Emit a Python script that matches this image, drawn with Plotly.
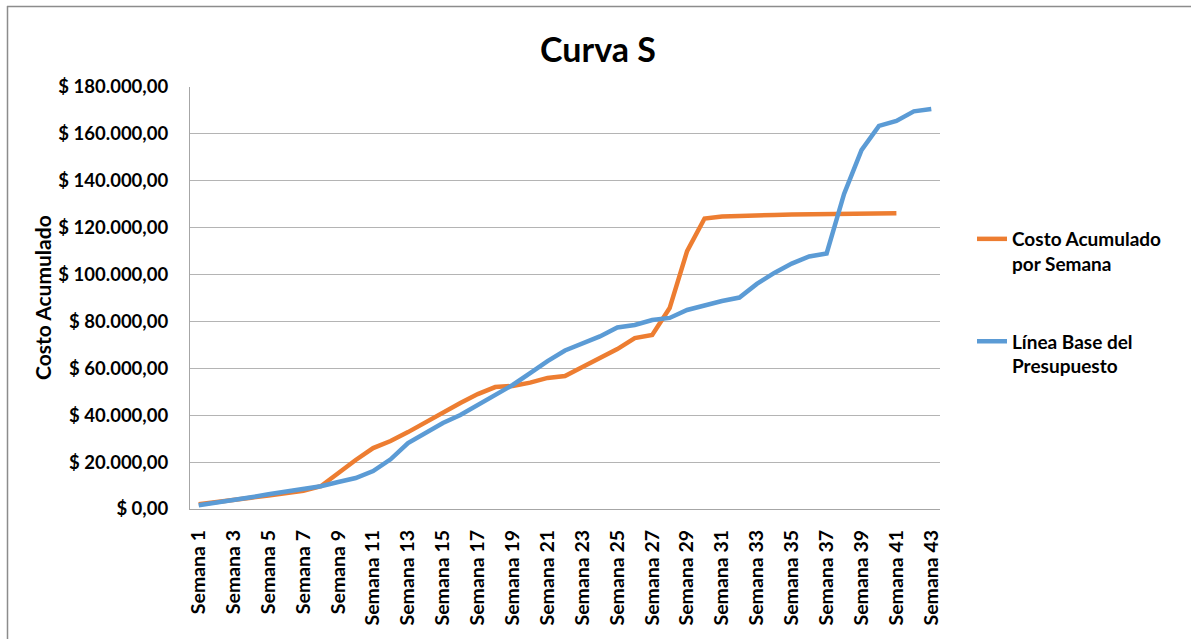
import plotly.graph_objects as go

weeks = [
    "Semana 1", "Semana 2", "Semana 3", "Semana 4", "Semana 5", "Semana 6", "Semana 7",
    "Semana 8", "Semana 9", "Semana 10", "Semana 11", "Semana 12", "Semana 13", "Semana 14",
    "Semana 15", "Semana 16", "Semana 17", "Semana 18", "Semana 19", "Semana 20", "Semana 21",
    "Semana 22", "Semana 23", "Semana 24", "Semana 25", "Semana 26", "Semana 27", "Semana 28",
    "Semana 29", "Semana 30", "Semana 31", "Semana 32", "Semana 33", "Semana 34", "Semana 35",
    "Semana 36", "Semana 37", "Semana 38", "Semana 39", "Semana 40", "Semana 41", "Semana 42",
    "Semana 43",
]

costo_acumulado = [
    2000, 2800, 3800, 4800, 5800, 6800, 7800, 9700, 15400, 20900,
    26000, 29000, 32800, 37100, 41400, 45200, 49000, 52000, 52500, 53900,
    55900, 56700, 60600, 64400, 68200, 72900, 74200, 85700, 110000, 123900,
    124800, 125000, 125400, 125400, 125600, 125700, 126000, 126000, 126000, 126000,
    126200, None, None,
]

linea_base = [
    1600, 2600, 4000, 5000, 6300, 7300, 8600, 9700, 11500, 13200,
    16200, 21200, 28100, 32400, 36700, 40100, 44400, 49100, 52900, 58000,
    63100, 67600, 70400, 73600, 77400, 78500, 80600, 81500, 84900, 87000,
    88700, 90200, 96000, 100700, 104700, 107700, 109000, 134400, 153100, 163400,
    165500, 169600, 170600,
]

tick_weeks = [
    "Semana 1", "Semana 3", "Semana 5", "Semana 7", "Semana 9", "Semana 11", "Semana 13",
    "Semana 15", "Semana 17", "Semana 19", "Semana 21", "Semana 23", "Semana 25", "Semana 27",
    "Semana 29", "Semana 31", "Semana 33", "Semana 35", "Semana 37", "Semana 39", "Semana 41",
    "Semana 43",
]

FONT = "Lato"

fig = go.Figure()
fig.add_trace(go.Scatter(
    x=weeks, y=costo_acumulado, mode="lines",
    name="<b>Costo Acumulado<br>por Semana</b>",
    line=dict(color="#ED7D31", width=4.5),
    connectgaps=False, legendgroup="a",
))
fig.add_trace(go.Scatter(
    x=weeks, y=linea_base, mode="lines",
    name="<b>Línea Base del<br>Presupuesto</b>",
    line=dict(color="#5B9BD5", width=4.5),
    legendgroup="b",
))

W, H = 1191, 639
L, R, T, B = 190, 940, 87, 509

def px_x(x):
    return (x - L) / (R - L)

def px_y(y):
    return (B - y) / (B - T)

fig.update_layout(
    width=W, height=H,
    margin=dict(l=L, r=W - R, t=T, b=H - B),
    paper_bgcolor="white", plot_bgcolor="white",
    separators=",.",
    font=dict(family=FONT, color="black"),
    title=dict(
        text="<b>Curva S</b>", x=598 / W, xanchor="center",
        y=1 - 50 / H, yanchor="middle", yref="container", xref="container",
        font=dict(family=FONT, size=34, color="black"),
    ),
    showlegend=True,
    legend=dict(
        x=px_x(972), xanchor="left", y=px_y(220), yanchor="top",
        font=dict(family=FONT, size=19, color="black"),
        traceorder="grouped", tracegroupgap=50, valign="top",
        bgcolor="rgba(0,0,0,0)",
    ),
    xaxis=dict(
        type="category", range=[-0.5, 42.5],
        tickmode="array", tickvals=tick_weeks, ticktext=[f"<b>{t}</b>" for t in tick_weeks],
        tickangle=-90, tickfont=dict(family=FONT, size=19.5, color="black"),
        showgrid=False, showline=True, linecolor="#a6a6a6", linewidth=1.3,
        ticks="", ticklabelstandoff=12, zeroline=False,
    ),
    yaxis=dict(
        range=[0, 180000], dtick=20000, tick0=0,
        tickformat=",.2f", tickprefix="$ ",
        tickfont=dict(family=FONT, size=18.5, color="black", weight="bold"),
        showgrid=True, gridcolor="#b4b4b4", gridwidth=1.3,
        showline=True, linecolor="#a6a6a6", linewidth=1.3,
        ticks="", ticklabelstandoff=17, zeroline=False,
    ),
    annotations=[dict(
        text="<b>Costo Acumulado</b>", textangle=-90,
        x=px_x(42), y=0.5, xref="paper", yref="paper",
        xanchor="center", yanchor="middle", showarrow=False,
        font=dict(family=FONT, size=21, color="black"),
    )],
    shapes=[
        dict(type="line", xref="paper", yref="paper",
             x0=px_x(7), x1=px_x(1200), y0=px_y(6.5), y1=px_y(6.5),
             line=dict(color="#8c8c8c", width=1.5)),
        dict(type="line", xref="paper", yref="paper",
             x0=px_x(7.5), x1=px_x(7.5), y0=px_y(6), y1=px_y(660),
             line=dict(color="#8c8c8c", width=1.5)),
    ],
)

fig.write_html(
    "out.html",
    config={"displayModeBar": False},
    post_script="document.body.style.margin='0';document.body.style.padding='0';",
)
